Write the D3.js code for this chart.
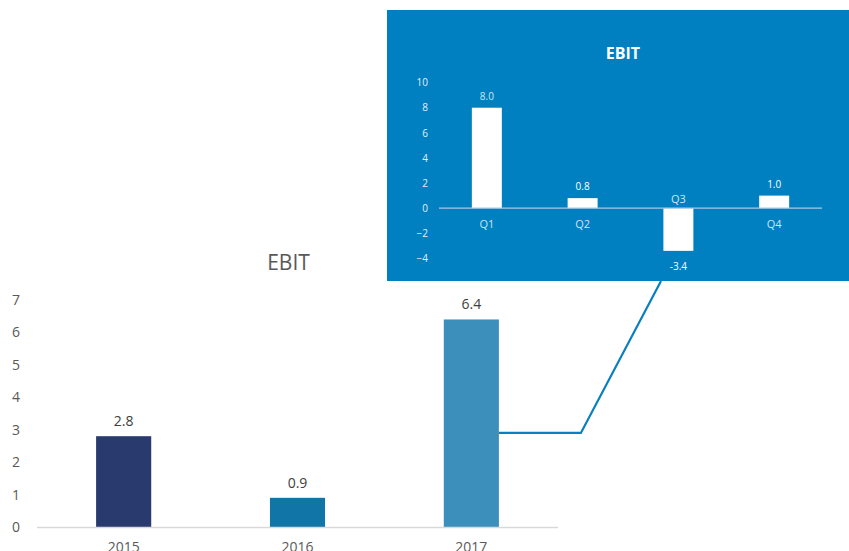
<!DOCTYPE html>
<html>
<head>
<meta charset="utf-8">
<script src="https://cdn.jsdelivr.net/npm/d3@7/dist/d3.min.js"></script>
<style>
  html, body { margin: 0; padding: 0; background: #fff; }
  svg { display: block; }
</style>
</head>
<body>
<svg id="chart" width="849" height="551"></svg>
<script>
// Annual EBIT
const years = ["2015", "2016", "2017"];
const yearValues = [2.8, 0.9, 6.4];
const yearColors = ["#283a6e", "#1275a8", "#3c8fbb"];
const yearTicks = [0, 1, 2, 3, 4, 5, 6, 7];

// Quarterly EBIT for 2017
const quarters = ["Q1", "Q2", "Q3", "Q4"];
const quarterValues = [8.0, 0.8, -3.4, 1.0];
const quarterTicks = [-4, -2, 0, 2, 4, 6, 8, 10];

// Level on the 2017 bar where the callout line attaches
const calloutValue = 2.9;

const svg = d3.select("#chart");
const font = "'Open Sans', 'Noto Sans', sans-serif";

// ---------- Main annual chart ----------
const x = d3.scaleBand().domain(years).range([37, 558]).paddingInner(0.683).paddingOuter(0.34);
const y = d3.scaleLinear().domain([0, 7]).range([527, 300]);

const main = svg.append("g");

main.append("text")
  .attr("x", 288.5).attr("y", 270)
  .attr("text-anchor", "middle")
  .attr("font-family", font).attr("font-size", 21)
  .attr("fill", "#595959")
  .text("EBIT");

const yAxis = main.append("g")
  .attr("transform", "translate(20,0)")
  .call(d3.axisLeft(y).tickValues(yearTicks).tickFormat(d3.format("d")).tickSize(0).tickPadding(0));
yAxis.select(".domain").remove();
yAxis.selectAll("text")
  .attr("font-family", font).attr("font-size", 14)
  .attr("fill", "#595959").attr("text-anchor", "end");

main.selectAll("rect.year")
  .data(years)
  .join("rect")
  .attr("class", "year")
  .attr("x", d => x(d))
  .attr("width", x.bandwidth())
  .attr("y", (d, i) => y(yearValues[i]))
  .attr("height", (d, i) => y(0) - y(yearValues[i]))
  .attr("fill", (d, i) => yearColors[i]);

main.append("line")
  .attr("x1", 37).attr("x2", 558)
  .attr("y1", y(0) + 0.5).attr("y2", y(0) + 0.5)
  .attr("stroke", "#d9d9d9").attr("stroke-width", 1.5);

main.selectAll("text.val")
  .data(years)
  .join("text")
  .attr("class", "val")
  .attr("x", d => x(d) + x.bandwidth() / 2)
  .attr("y", (d, i) => y(yearValues[i]) - 10)
  .attr("text-anchor", "middle")
  .attr("font-family", font).attr("font-size", 14)
  .attr("fill", "#404040")
  .text((d, i) => d3.format(".1f")(yearValues[i]));

const xAxis = main.append("g")
  .attr("transform", `translate(0,${y(0)})`)
  .call(d3.axisBottom(x).tickSize(0).tickPadding(25));
xAxis.select(".domain").remove();
xAxis.selectAll("text")
  .attr("dy", 0)
  .attr("font-family", font).attr("font-size", 14)
  .attr("fill", "#595959");

// ---------- Callout connector ----------
const px0 = 387, py0 = 10, pw = 462, ph = 271;
const bar17 = x("2017") + x.bandwidth();
const cy = y(calloutValue);
svg.append("path")
  .attr("d", `M${bar17},${cy} L${bar17 + 82},${cy} L${661},${py0 + ph}`)
  .attr("fill", "none")
  .attr("stroke", "#0a7fc0")
  .attr("stroke-width", 2.2);

// ---------- Quarterly inset panel ----------
const panel = svg.append("g");
panel.append("rect")
  .attr("x", px0).attr("y", py0).attr("width", pw).attr("height", ph)
  .attr("fill", "#0080c1");

panel.append("text")
  .attr("x", 623).attr("y", 59)
  .attr("text-anchor", "middle")
  .attr("font-family", font).attr("font-size", 16).attr("font-weight", "bold")
  .attr("fill", "#ffffff")
  .text("EBIT");

const qx = d3.scaleBand().domain(quarters).range([439, 822]).paddingInner(0.687).paddingOuter(0.343);
const qy = d3.scaleLinear().domain([-4, 10]).range([258.4, 82.6]);

const qAxis = panel.append("g")
  .attr("transform", "translate(428,0)")
  .call(d3.axisLeft(qy).tickValues(quarterTicks).tickFormat(d3.format("d")).tickSize(0).tickPadding(0));
qAxis.select(".domain").remove();
qAxis.selectAll("text")
  .attr("font-family", font).attr("font-size", 10)
  .attr("fill", "#e4eff8").attr("text-anchor", "end");

panel.selectAll("rect.q")
  .data(quarters)
  .join("rect")
  .attr("class", "q")
  .attr("x", d => qx(d))
  .attr("width", qx.bandwidth())
  .attr("y", (d, i) => qy(Math.max(0, quarterValues[i])))
  .attr("height", (d, i) => Math.abs(qy(quarterValues[i]) - qy(0)))
  .attr("fill", "#ffffff");

panel.append("line")
  .attr("x1", 439).attr("x2", 822)
  .attr("y1", qy(0)).attr("y2", qy(0))
  .attr("stroke", "#a9c9e2").attr("stroke-width", 1.3);

panel.selectAll("text.qval")
  .data(quarters)
  .join("text")
  .attr("class", "qval")
  .attr("x", d => qx(d) + qx.bandwidth() / 2)
  .attr("y", (d, i) => quarterValues[i] >= 0 ? qy(quarterValues[i]) - 8 : qy(quarterValues[i]) + 19)
  .attr("text-anchor", "middle")
  .attr("font-family", font).attr("font-size", 10)
  .attr("fill", (d, i) => quarterValues[i] > 5 ? "#d0e4f2" : "#ffffff")
  .text((d, i) => d3.format(".1f")(quarterValues[i]).replace("−", "-"));

panel.selectAll("text.qcat")
  .data(quarters)
  .join("text")
  .attr("class", "qcat")
  .attr("x", d => qx(d) + qx.bandwidth() / 2)
  .attr("y", (d, i) => quarterValues[i] >= 0 ? qy(0) + 20 : qy(0) - 5)
  .attr("text-anchor", "middle")
  .attr("font-family", font).attr("font-size", 11)
  .attr("fill", "#d0e4f2")
  .text(d => d);
</script>
</body>
</html>
